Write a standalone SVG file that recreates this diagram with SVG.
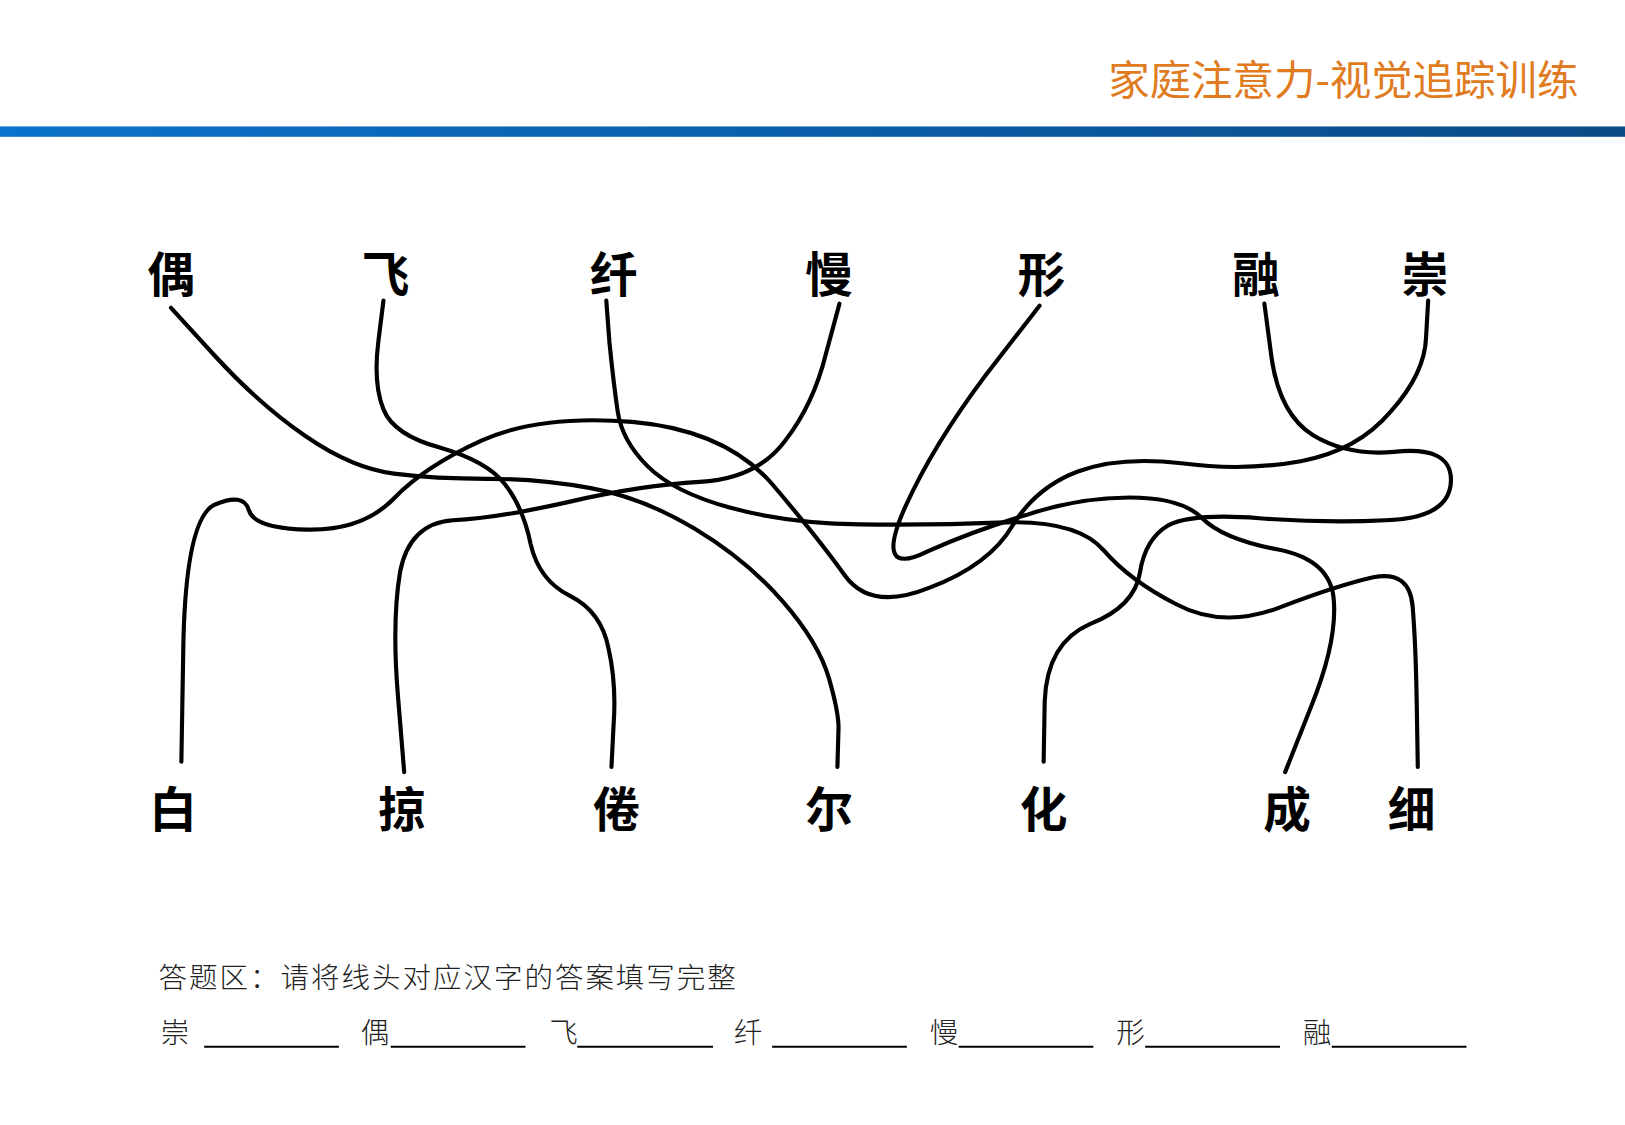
<svg xmlns="http://www.w3.org/2000/svg" width="1625" height="1125" viewBox="0 0 1625 1125">
<defs>
<linearGradient id="bar" x1="0" x2="1" y1="0" y2="0"><stop offset="0" stop-color="#0B73CC"/><stop offset="1" stop-color="#0A4A86"/></linearGradient>
<style>
.w{fill:none;stroke:#000;stroke-width:4;stroke-linecap:round}
.c{font-family:"Noto Sans CJK SC",sans-serif;font-weight:bold;font-size:46px;text-anchor:middle;fill:#000}
.a{font-family:"Noto Sans CJK SC",sans-serif;font-weight:300;font-size:27.5px;fill:#222}
.u{stroke:#000;stroke-width:2}
</style>
</defs>
<rect width="1625" height="1125" fill="#fff"/>
<g transform="scale(1.0364)">
<text x="1523" y="92" text-anchor="end" style="font-family:'Noto Sans CJK SC',sans-serif;font-size:40px;fill:#E07B1F">家庭注意力-视觉追踪训练</text>
<rect x="0" y="122" width="1568" height="10" fill="url(#bar)"/>
<g id="connectors">
<path class="w" d="M165,297 L207,343 Q250,390 295,421 Q340,452 380,457 Q420,462 470,462 Q520,462 570,471 Q620,480 670,510 Q720,540 755,580 Q790,620 800,655 Q810,690 809,705 L808,740"/>
<path class="w" d="M370,290 L365,330 Q360,370 370,395 Q380,420 425,432 Q470,445 487,467 Q505,490 512,525 Q520,560 550,575 Q580,590 587,625 Q595,660 592,700 L590,740"/>
<path class="w" d="M585,290 L588,330 Q592,370 596,397 Q600,425 625,450 Q650,475 705,490 Q760,505 830,506 Q900,507 970,504 Q1040,502 1065,531 Q1090,560 1135,583 Q1180,607 1235,586 Q1290,565 1325,557 Q1360,550 1363,585 Q1366,620 1367,680 L1368,740"/>
<path class="w" d="M810,293 L797,341 Q785,390 757,426 Q730,462 675,465 Q620,468 550,484 Q480,500 437,502 Q395,505 386,552 Q378,600 384,672 L390,745"/>
<path class="w" d="M1003,295 L951,362 Q900,430 873,490 Q843,558 895,532 Q940,512 990,497 Q1040,480 1090,480 Q1140,480 1160,500 Q1180,520 1232,530 Q1285,540 1287,580 Q1290,620 1265,682 L1240,745"/>
<path class="w" d="M1220,293 L1227,346 Q1235,400 1267,420 Q1300,440 1345,436 Q1400,430 1400,463 Q1400,500 1337,502 Q1280,505 1215,500 Q1150,495 1127,507 Q1105,520 1100,552 Q1095,585 1052,602 Q1010,620 1008,677 L1007,735"/>
<path class="w" d="M1378,290 L1376,325 Q1375,360 1342,397 Q1310,435 1255,445 Q1200,455 1140,447 Q1080,440 1040,455 Q1000,470 977,507 Q955,545 897,567 Q840,590 815,555 Q790,520 745,467 Q700,415 610,407 Q520,400 465,425 Q410,450 380,481 Q350,512 297,511 Q245,510 240,492 Q235,475 207,487 Q180,500 177,617 L175,735"/>
</g>
<g id="t1"><text class="c" x="165" y="282">偶</text></g>
<g id="t2"><text class="c" x="372" y="282">飞</text></g>
<g id="t3"><text class="c" x="592" y="282">纤</text></g>
<g id="t4"><text class="c" x="800" y="282">慢</text></g>
<g id="t5"><text class="c" x="1005" y="282">形</text></g>
<g id="t6"><text class="c" x="1212" y="282">融</text></g>
<g id="t7"><text class="c" x="1375" y="282">崇</text></g>
<g id="b1"><text class="c" x="167" y="798">白</text></g>
<g id="b2"><text class="c" x="388" y="798">掠</text></g>
<g id="b3"><text class="c" x="595" y="798">倦</text></g>
<g id="b4"><text class="c" x="800" y="798">尔</text></g>
<g id="b5"><text class="c" x="1007" y="798">化</text></g>
<g id="b6"><text class="c" x="1242" y="798">成</text></g>
<g id="b7"><text class="c" x="1362" y="798">细</text></g>
<text class="a" x="153" y="953" textLength="557">答题区：请将线头对应汉字的答案填写完整</text>
<text class="a" x="155" y="1006">崇</text><line class="u" x1="197" y1="1010" x2="327" y2="1010"/>
<text class="a" x="348" y="1006">偶</text><line class="u" x1="377" y1="1010" x2="507" y2="1010"/>
<text class="a" x="530" y="1006">飞</text><line class="u" x1="557" y1="1010" x2="688" y2="1010"/>
<text class="a" x="708" y="1006">纤</text><line class="u" x1="745" y1="1010" x2="875" y2="1010"/>
<text class="a" x="897" y="1006">慢</text><line class="u" x1="925" y1="1010" x2="1055" y2="1010"/>
<text class="a" x="1077" y="1006">形</text><line class="u" x1="1105" y1="1010" x2="1235" y2="1010"/>
<text class="a" x="1257" y="1006">融</text><line class="u" x1="1285" y1="1010" x2="1415" y2="1010"/>
</g>
</svg>
